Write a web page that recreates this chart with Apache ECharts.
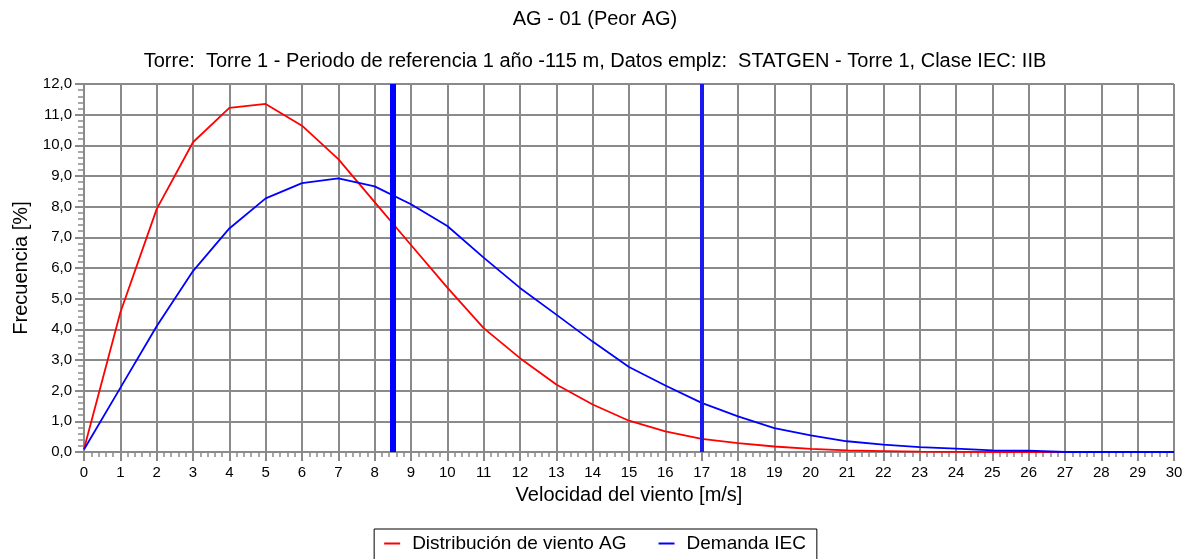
<!DOCTYPE html>
<html>
<head>
    <meta charset="utf-8">
    <title>AG - 01</title>
    <style>
        body { margin: 0; background: #fff; }
        #ec { width: 1190px; height: 559px; }
    </style>
</head>
<body>
    <div id="ec"></div>
    <script src="https://cdn.jsdelivr.net/npm/echarts@6/dist/echarts.min.js"></script>
    <script>
        // velocidades [m/s]
        var speeds = [0, 1, 2, 3, 4, 5, 6, 7, 8, 9, 10, 11, 12, 13, 14, 15, 16, 17, 18, 19, 20,
            21, 22, 23, 24, 25, 26, 27, 28, 29, 30];
        // Distribución de viento AG [%]
        var agDist = [0.1, 4.55, 7.92, 10.1, 11.22, 11.35, 10.64, 9.55, 8.15, 6.75, 5.36, 4.04,
            3.06, 2.2, 1.55, 1.02, 0.67, 0.43, 0.29, 0.18, 0.1, 0.05, 0.03, 0.01, 0.005, 0, 0, 0, 0, 0, 0];
        // Demanda IEC [%]
        var iecDemand = [0.08, 2.09, 4.1, 5.9, 7.29, 8.27, 8.77, 8.92, 8.66, 8.08, 7.37, 6.34,
            5.35, 4.48, 3.6, 2.77, 2.17, 1.6, 1.16, 0.78, 0.54, 0.35, 0.24, 0.16, 0.11, 0.05, 0.04, 0, 0, 0, 0];
        // líneas verticales
        var vAve = 8.5;
        var vRef = 17;

        var font = 'Liberation Sans, Arial, sans-serif';
        var gridColor = '#8a8a8a';

        function pairs(ys) {
            return speeds.map(function (x, i) { return [x, ys[i]]; });
        }

        var chart = echarts.init(document.getElementById('ec'));
        chart.setOption({
            animation: false,
            title: [{
                text: 'AG - 01 (Peor AG)',
                left: 'center',
                top: 4,
                textStyle: { fontFamily: font, fontSize: 20, fontWeight: 'normal', color: '#000' }
            }, {
                text: 'Torre:  Torre 1 - Periodo de referencia 1 año -115 m, Datos emplz:  STATGEN - Torre 1, Clase IEC: IIB',
                left: 'center',
                top: 46,
                textStyle: { fontFamily: font, fontSize: 20, fontWeight: 'normal', color: '#000' }
            }],
            legend: {
                top: 529,
                left: 'center',
                padding: [5, 11, 10, 10],
                borderColor: '#000',
                borderWidth: 1,
                borderRadius: 0,
                itemWidth: 16,
                itemHeight: 2,
                itemGap: 32,
                icon: 'rect',
                textStyle: { fontFamily: font, fontSize: 19, color: '#000', padding: [0, 0, 0, 7] },
                data: ['Distribución de viento AG', 'Demanda IEC']
            },
            grid: { left: 84, right: 16, top: 84, bottom: 107 },
            xAxis: {
                type: 'value',
                min: 0,
                max: 30,
                interval: 1,
                name: 'Velocidad del viento [m/s]',
                nameLocation: 'middle',
                nameGap: 33,
                nameTextStyle: { fontFamily: font, fontSize: 20, color: '#000' },
                axisLine: { lineStyle: { color: gridColor, width: 2 } },
                axisTick: { length: 9, lineStyle: { color: gridColor, width: 2 } },
                minorTick: { show: true, splitNumber: 5, length: 5, lineStyle: { color: gridColor, width: 1.5 } },
                axisLabel: { fontFamily: font, fontSize: 15, color: '#000', margin: 13 },
                splitLine: { show: true, lineStyle: { color: gridColor, width: 2 } }
            },
            yAxis: {
                type: 'value',
                min: 0,
                max: 12,
                interval: 1,
                name: 'Frecuencia [%]',
                nameLocation: 'middle',
                nameGap: 52,
                nameTextStyle: { fontFamily: font, fontSize: 20, color: '#000' },
                axisLine: { show: true, lineStyle: { color: gridColor, width: 2 } },
                axisTick: { show: true, length: 9, lineStyle: { color: gridColor, width: 2 } },
                minorTick: { show: true, splitNumber: 5, length: 6, lineStyle: { color: gridColor, width: 1.5 } },
                axisLabel: {
                    fontFamily: font, fontSize: 15, color: '#000', margin: 12,
                    formatter: function (v) { return v.toFixed(1).replace('.', ','); }
                },
                splitLine: { show: true, lineStyle: { color: gridColor, width: 2 } }
            },
            series: [{
                name: 'Distribución de viento AG',
                type: 'line',
                data: pairs(agDist),
                showSymbol: false,
                color: '#ff0000',
                lineStyle: { width: 1.8, color: '#ff0000' },
                z: 3
            }, {
                name: 'Demanda IEC',
                type: 'line',
                data: pairs(iecDemand),
                showSymbol: false,
                color: '#0000ff',
                lineStyle: { width: 1.8, color: '#0000ff' },
                z: 4,
                markLine: {
                    silent: true,
                    symbol: 'none',
                    label: { show: false },
                    data: [
                        { xAxis: vAve, lineStyle: { color: '#0000ff', width: 6, type: 'solid' } },
                        { xAxis: vRef, lineStyle: { color: '#1a1af0', width: 4, type: 'solid' } }
                    ]
                }
            }]
        });
    </script>
</body>
</html>
